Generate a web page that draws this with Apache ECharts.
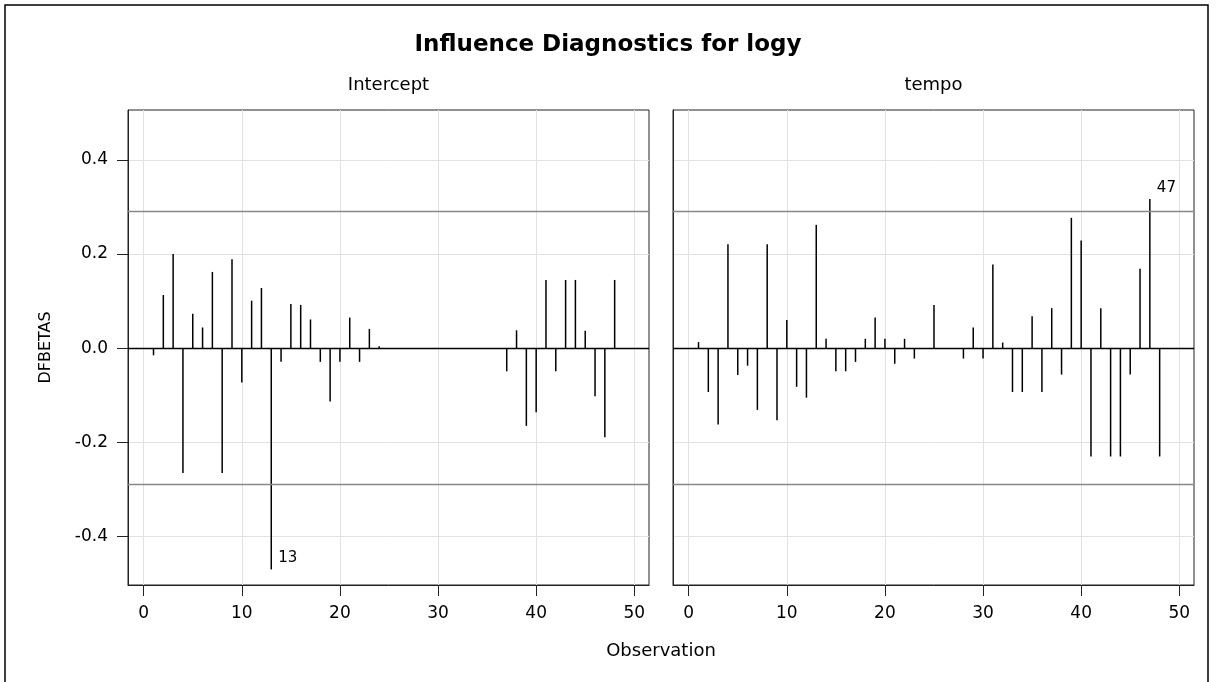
<!DOCTYPE html>
<html>
<head>
<meta charset="utf-8">
<script src="https://cdn.jsdelivr.net/npm/echarts@6/dist/echarts.min.js"></script>
<style>
html,body{margin:0;padding:0;background:#fff;}
#chart{width:1216px;height:682px;}
</style>
</head>
<body>
<div id="chart"></div>
<script>
// ---- data ----
const observations = [1,2,3,4,5,6,7,8,9,10,11,12,13,14,15,16,17,18,19,20,21,22,23,24,
                      25,26,27,28,29,30,31,32,33,34,35,36,37,38,39,40,41,42,43,44,45,46,47,48];
const interceptDfbetas = [-0.015,0.113,0.200,-0.265,0.073,0.044,0.162,-0.265,0.189,-0.073,0.101,0.128,
                          -0.470,-0.029,0.094,0.092,0.061,-0.029,-0.113,-0.029,0.065,-0.029,0.041,0.004,
                          0,0,0,0,0,0,0,0,0,0,0,0,
                          -0.049,0.038,-0.165,-0.136,0.145,-0.049,0.145,0.145,0.037,-0.102,-0.189,0.145];
const tempoDfbetas = [0.013,-0.093,-0.162,0.221,-0.057,-0.037,-0.131,0.221,-0.153,0.060,-0.082,-0.105,
                      0.262,0.020,-0.049,-0.049,-0.029,0.020,0.065,0.020,-0.033,0.020,-0.022,0,
                      0.092,0,0,-0.022,0.044,-0.022,0.178,0.012,-0.093,-0.093,0.068,-0.093,
                      0.085,-0.056,0.277,0.229,-0.230,0.085,-0.230,-0.230,-0.056,0.169,0.317,-0.230];
const panelNames = ['Intercept', 'tempo'];
const xTicks = [0, 10, 20, 30, 40, 50];
const yTicks = [-0.4, -0.2, 0.0, 0.2, 0.4];
const cutoff = 0.2887;
const labelledObs = [13, 47];   // labelled observation in panel 0 and panel 1

// ---- chart ----
const FONT = 'DejaVu Sans';
const panels = [interceptDfbetas, tempoDfbetas];
const gridLefts = [128, 673];
const PW = 521, PT = 110, PH = 475;
const frameColor = '#222';
const gridColor = '#e2e2e2';

const grids = [], xAxes = [], yAxes = [], series = [], graphics = [];

panels.forEach((vals, k) => {
  grids.push({left: gridLefts[k], top: PT, width: PW, height: PH,
              show: true, borderColor: frameColor, borderWidth: 1, containLabel: false});
  xAxes.push({
    type: 'value', gridIndex: k, min: -1.6, max: 51.5,
    axisLine: {show: true, onZero: false, lineStyle: {color: frameColor, width: 1}},
    axisTick: {show: true, length: 11, customValues: xTicks, lineStyle: {color: frameColor, width: 1}},
    axisLabel: {show: true, customValues: xTicks, margin: 20, fontFamily: FONT, fontSize: 17, color: '#000'},
    splitLine: {show: true, lineStyle: {color: gridColor, width: 1}}
  });
  yAxes.push({
    type: 'value', gridIndex: k, min: -0.503, max: 0.506,
    name: k === 0 ? 'DFBETAS' : '', nameLocation: 'middle', nameGap: 74,
    nameTextStyle: {fontFamily: FONT, fontSize: 16, color: '#000'},
    axisLine: {show: true, onZero: false, lineStyle: {color: frameColor, width: 1}},
    axisTick: {show: k === 0, length: 11, customValues: yTicks, lineStyle: {color: frameColor, width: 1}},
    axisLabel: {show: k === 0, customValues: yTicks, margin: 20, fontFamily: FONT, fontSize: 17, color: '#000',
                formatter: v => v.toFixed(1)},
    splitLine: {show: true, lineStyle: {color: gridColor, width: 1}}
  });
  series.push({
    type: 'bar', xAxisIndex: k, yAxisIndex: k, barWidth: 1.5,
    data: observations.map((o, i) => [o, vals[i]]),
    itemStyle: {color: '#000'},
    silent: true,
    markLine: {
      silent: true, symbol: 'none', label: {show: false}, animation: false,
      data: [
        {yAxis: cutoff, lineStyle: {color: '#888', width: 1.3, type: 'solid'}},
        {yAxis: -cutoff, lineStyle: {color: '#888', width: 1.3, type: 'solid'}},
        {yAxis: 0, lineStyle: {color: '#000', width: 1.3, type: 'solid'}}
      ]
    }
  });
  const idx = observations.indexOf(labelledObs[k]);
  series.push({
    type: 'scatter', xAxisIndex: k, yAxisIndex: k, symbolSize: 2, silent: true,
    itemStyle: {color: 'rgba(0,0,0,0)'},
    data: [[observations[idx], vals[idx]]],
    label: {show: true, position: 'right', offset: [1, -11], formatter: p => String(p.value[0]),
            fontFamily: FONT, fontSize: 15, color: '#000', opacity: 1}
  });
  graphics.push({
    type: 'text', x: gridLefts[k] + PW / 2, y: 85, silent: true,
    style: {text: panelNames[k], font: '18px "DejaVu Sans"', fontSize: 18, fontFamily: FONT, fill: '#000',
            textAlign: 'center', textVerticalAlign: 'middle', align: 'center', verticalAlign: 'middle'}
  });
});

graphics.push({
  type: 'text', x: (gridLefts[0] + gridLefts[1] + PW) / 2, y: 651, silent: true,
  style: {text: 'Observation', font: '18px "DejaVu Sans"', fontSize: 18, fontFamily: FONT, fill: '#000',
          textAlign: 'center', textVerticalAlign: 'middle', align: 'center', verticalAlign: 'middle'}
});
graphics.push({
  type: 'rect', silent: true, z: -10,
  shape: {x: 5, y: 5, width: 1203, height: 700},
  style: {fill: 'none', stroke: '#000', lineWidth: 1.5}
});

const chart = echarts.init(document.getElementById('chart'), null, {renderer: 'canvas'});
chart.setOption({
  animation: false,
  backgroundColor: '#fff',
  title: {text: 'Influence Diagnostics for logy', left: 'center', top: 29,
          textStyle: {fontFamily: FONT, fontSize: 23, fontWeight: 'bold', color: '#000'}},
  grid: grids,
  xAxis: xAxes,
  yAxis: yAxes,
  series: series,
  graphic: graphics
});
</script>
</body>
</html>
